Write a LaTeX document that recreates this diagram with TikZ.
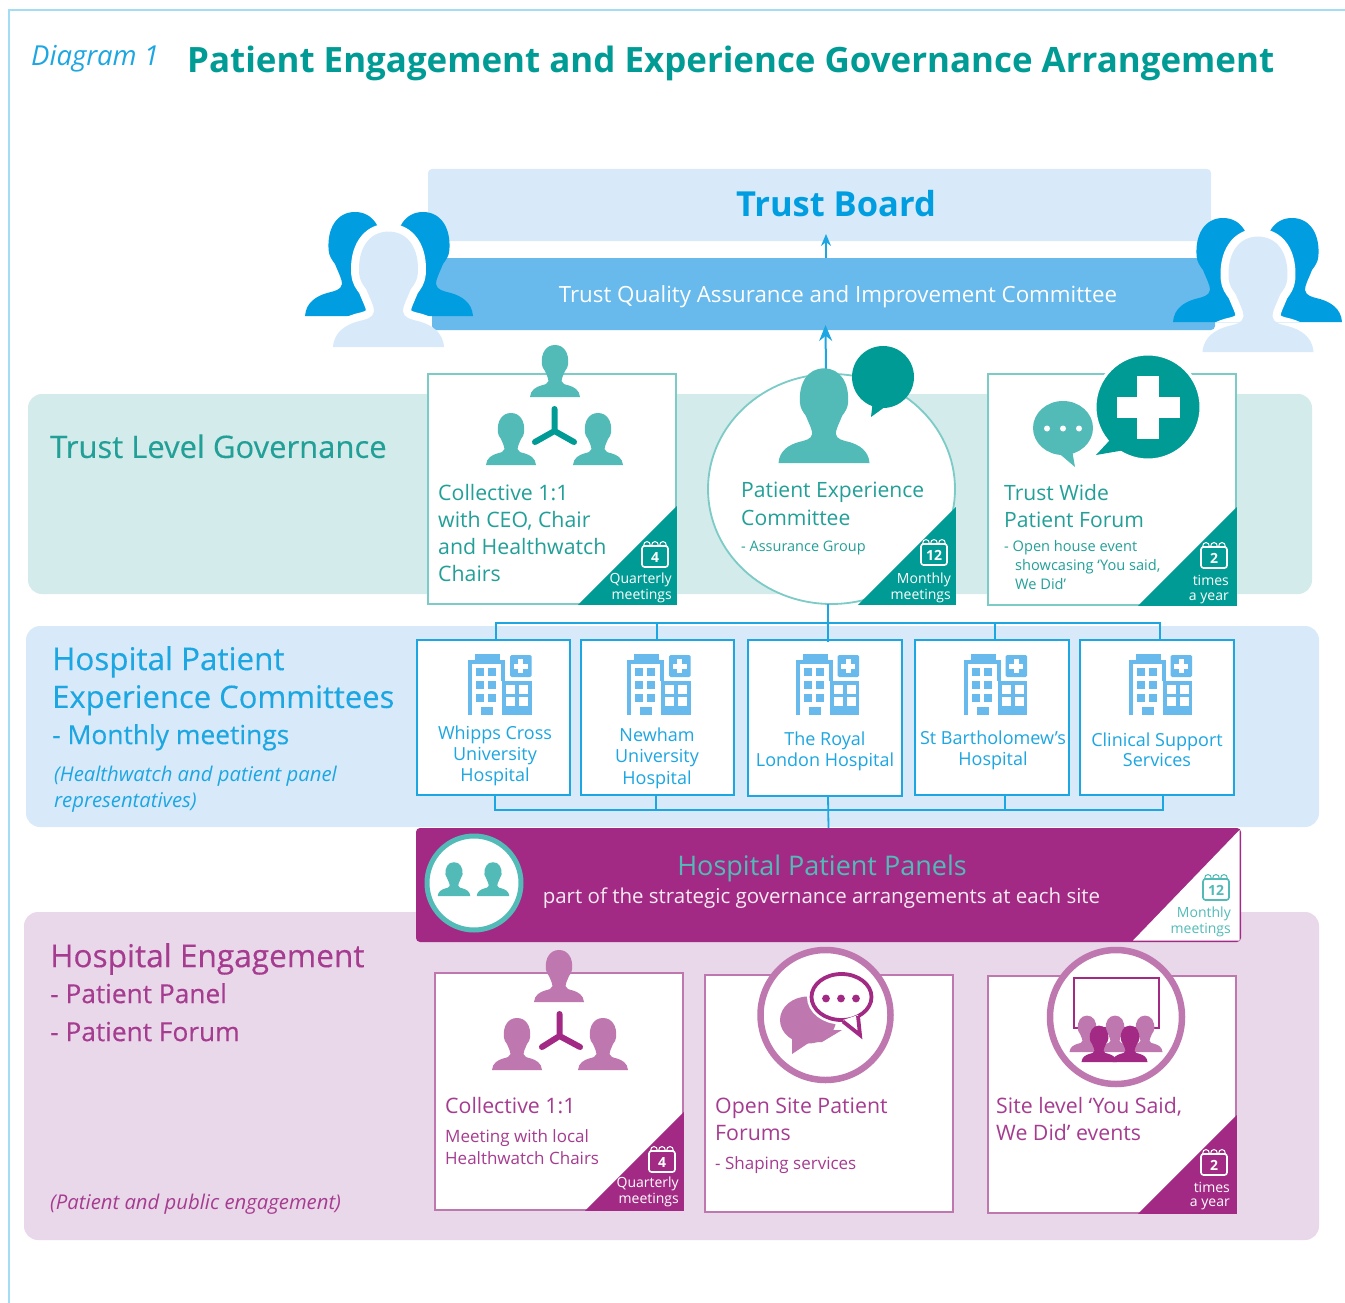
\documentclass[tikz,border=0pt]{standalone}
\usepackage{fontspec}
\setmainfont{Open Sans}
\usetikzlibrary{arrows.meta,shapes.geometric}
\definecolor{frameblue}{HTML}{A3DDF5}
\definecolor{titleblue}{HTML}{1CA6E2}
\definecolor{boardfill}{HTML}{D8EAF9}
\definecolor{qafill}{HTML}{67BAEB}
\definecolor{deepblue}{HTML}{009EE0}
\definecolor{tealdark}{HTML}{009B94}
\definecolor{tealmid}{HTML}{52BBB8}
\definecolor{tealtext}{HTML}{22A098}
\definecolor{tealband}{HTML}{D3EBEA}
\definecolor{tealline}{HTML}{7CCBC7}
\definecolor{plum}{HTML}{A32A84}
\definecolor{plummid}{HTML}{BF77AF}
\definecolor{plumtext}{HTML}{A63C90}
\definecolor{plumband}{HTML}{E9D7EA}
\definecolor{palepink}{HTML}{F7EAF3}
\def\lastsize{10}
\newcommand\fs[1]{\gdef\lastsize{#1}\fontsize{#1}{#1}\selectfont}
\newcommand\hw{\addfontfeature{FakeBold=0.25}}
\newcommand\personshape{(-25,0) .. controls (-24.5,-7) and (-19,-10) .. (-14,-11.5)
 .. controls (-10,-12.5) and (-7,-13) .. (-6.5,-16)
 .. controls (-6.5,-18.5) and (-8,-21) .. (-10,-26)
 .. controls (-11.5,-28) and (-13,-30) .. (-13.2,-33)
 .. controls (-14,-44) and (-9,-52) .. (0,-52)
 .. controls (9,-52) and (14,-44) .. (13.2,-33)
 .. controls (13,-30) and (11.5,-28) .. (10,-26)
 .. controls (8,-21) and (6.5,-18.5) .. (6.5,-16)
 .. controls (7,-13) and (10,-12.5) .. (14,-11.5)
 .. controls (19,-10) and (24.5,-7) .. (25,0) -- cycle}
\newcommand\person[4]{\begin{scope}[shift={(#1,#2)},scale=#3]\fill[#4]\personshape;\end{scope}}
\newcommand\personhalo[4]{\begin{scope}
 \clip ({#1-100},{#2-200}) rectangle ({#1+100},{#2-31});
 \begin{scope}[shift={(#1,#2)},scale=#3]\draw[white,line width=16,line join=round]\personshape;\end{scope}
 \end{scope}
 \person{#1}{#2}{#3}{#4}}
\newcommand\calicon[4]{\begin{scope}[shift={(#1,#2)}]
 \draw[#4,line width=1.6,rounded corners=2.5] (-13,-9) rectangle (13,12);
 \foreach \k in {-8,0,8}{\draw[#4,line width=1] ({\k-3.5},-9) .. controls ({\k-3.5},-15) and ({\k+3.5},-15) .. ({\k+3.5},-9);}
 \node[inner sep=0,text=#4,font=\fs{14}\bfseries] (cal-#1) at (0,2) {#3};
 \end{scope}}
\newcommand\hospital[1]{\begin{scope}[shift={(#1,0)}]
 \fill[qafill] (-24.5,654) rectangle (0.5,661);
 \draw[qafill,line width=4] (-29.5,715) -- (-29.5,662) -- (3.5,662) -- (3.5,681);
 \foreach \a in {-23.5,-11.5}{\foreach \b in {668,681,694}{\fill[qafill] (\a,\b) rectangle ({\a+8},{\b+8});}}
 \fill[qafill] (-18.5,707) rectangle (-6.5,715);
 \fill[qafill] (2.5,681) rectangle (32,715);
 \foreach \a in {6.5,19.5}{\foreach \b in {685,697}{\fill[white] (\a,\b) rectangle ({\a+9},{\b+9});}}
 \fill[qafill,rounded corners=1.5] (10.5,655) rectangle (32,677);
 \fill[white] (18.5,659) rectangle (23.5,673);
 \fill[white] (14,663.5) rectangle (28,668.5);
 \end{scope}}
\tikzset{
 band/.style={inner sep=0,outer sep=0,rounded corners=14,draw=none},
 panelbox/.style={inner sep=0,outer sep=0,rounded corners=4,draw=none},
 card/.style={inner sep=0,outer sep=0,fill=white,line width=1.8},
 tl/.style={inner sep=0,anchor=west,text height={0.77*\lastsize pt},text depth=0pt},
 tc/.style={inner sep=0,anchor=center,text height={0.77*\lastsize pt},text depth=0pt},
 tr/.style={inner sep=0,anchor=east,text height={0.77*\lastsize pt},text depth=0pt},
 conn/.style={draw=titleblue,line width=1.8},
 up/.style={draw=titleblue,line width=1.4,-{Stealth[length=12,width=10]}},
 upbig/.style={draw=titleblue,line width=2,-{Stealth[length=16,width=13]}},
}
\begin{document}
\begin{tikzpicture}[x=1pt,y=-1pt]
\useasboundingbox (0,0) rectangle (1345,1303);
\fill[white] (0,0) rectangle (1345,1303);
\draw[frameblue,line width=1.8] (9,1303) -- (9,10) -- (1345,10);
\node[tl,text=titleblue,font=\fs{27.5}\itshape] (diag) at (31,55) {Diagram 1};
\node[tl,text=tealdark,font=\fs{34.9}\bfseries] (title) at (187,59) {Patient Engagement and Experience Governance Arrangement};
% bands
\node[band,fill=tealband,minimum width=1284,minimum height=200] (tband) at (670,494) {};
\node[band,fill=boardfill,minimum width=1293,minimum height=201] (bband) at (672.5,726.5) {};
\node[band,fill=plumband,minimum width=1295,minimum height=328] (pband) at (671.5,1076) {};
\node[tl,text=tealtext,font=\fs{31}\hw] (tlg) at (50,446) {Trust Level Governance};
\node[tl,text=titleblue,font=\fs{31.4}\hw] (hp1) at (52,658) {Hospital Patient};
\node[tl,text=titleblue,font=\fs{31}\hw] (hp2) at (52,696) {Experience Committees};
\node[tl,text=titleblue,font=\fs{26.4}\hw] (hp3) at (52,734) {- Monthly meetings};
\node[tl,text=titleblue,font=\fs{20.3}\itshape] (hp4) at (54,774) {(Healthwatch and patient panel};
\node[tl,text=titleblue,font=\fs{20.3}\itshape] (hp5) at (54,800) {representatives)};
\node[tl,text=plumtext,font=\fs{31.6}\hw] (he1) at (50,955) {Hospital Engagement};
\node[tl,text=plumtext,font=\fs{26.3}\hw] (he2) at (50,993) {- Patient Panel};
\node[tl,text=plumtext,font=\fs{26.3}\hw] (he3) at (50,1031) {- Patient Forum};
\node[tl,text=plumtext,font=\fs{20.3}\itshape] (he4) at (50,1202) {(Patient and public engagement)};
% top boxes
\node[panelbox,fill=boardfill,minimum width=783,minimum height=72] (board) at (819.5,205) {};
\node[panelbox,fill=qafill,minimum width=783,minimum height=72] (qa) at (823.5,294) {};
\node[tc,text=deepblue,font=\fs{34.5}\bfseries] (boardt) at (836,203) {Trust Board};
\node[tc,text=white,font=\fs{22.3}] (qat) at (838,294) {Trust Quality Assurance and Improvement Committee};
\draw[up] ([xshift=2.5]qa.north) -- ([xshift=6.5,yshift=7]board.south);
% people
\person{355}{316}{2}{deepblue}
\person{423}{316}{2}{deepblue}
\personhalo{388.5}{347}{2.22}{boardfill}
\person{1223}{322}{2}{deepblue}
\person{1292}{322}{2}{deepblue}
\personhalo{1258}{352}{2.22}{boardfill}
% teal cards
\node[card,draw=tealline,minimum width=248,minimum height=230] (c1) at (552,489) {};
\fill[tealdark] (578,604.9) -- (676.9,506) -- (676.9,604.9) -- cycle;
\node[ellipse,card,draw=tealline,minimum width=247,minimum height=230] (pec) at (831.5,489) {};
\fill[tealdark] (858,604.9) -- (955.9,507) -- (955.9,604.9) -- cycle;
\draw[upbig] ([xshift=-5.5]pec.north) -- ([xshift=2,yshift=5]qa.south);
\node[card,draw=tealline,minimum width=248,minimum height=231] (c3) at (1112,489.5) {};
\fill[tealdark] (1138,605.9) -- (1236.9,507) -- (1236.9,605.9) -- cycle;
% card 1 icon
\person{555}{397}{1}{tealmid}
\person{511}{465}{1}{tealmid}
\person{598}{465}{1}{tealmid}
\draw[tealdark,line width=6,line cap=round,line join=round] (554.5,409) -- (554.5,431) (535,442) -- (554.5,431) -- (574,442);
% card 2 icon
\person{824}{463}{1.82}{tealmid}
\fill[tealdark] (883,377) circle[radius=31];
\fill[tealdark] (873,400) -- (871,417) -- (900,396) -- cycle;
% card 3 icon
\fill[tealmid] (1063,428) ellipse[x radius=30,y radius=27];
\fill[tealmid] (1055,450) -- (1075,467) -- (1072,450) -- cycle;
\foreach \k in {1047,1063,1079}{\fill[white] (\k,428.5) circle[radius=3];}
\filldraw[draw=white,line width=3,fill=tealdark] (1148,407) circle[radius=53];
\fill[tealdark] (1110,440) -- (1096,455) -- (1125,450) -- cycle;
\fill[white] (1137,376) rectangle (1159,439);
\fill[white] (1117,397) rectangle (1180,418);
% teal texts
\node[tl,text=tealtext,font=\fs{21.3}] (c1a) at (438,492) {Collective 1:1};
\node[tl,text=tealtext,font=\fs{21.3}] (c1b) at (438,519) {with CEO, Chair};
\node[tl,text=tealtext,font=\fs{21.3}] (c1c) at (438,546) {and Healthwatch};
\node[tl,text=tealtext,font=\fs{21.3}] (c1d) at (438,573) {Chairs};
\node[tl,text=tealtext,font=\fs{21.1}] (p1) at (741,489) {Patient Experience};
\node[tl,text=tealtext,font=\fs{21.1}] (p2) at (741,517) {Committee};
\node[tl,text=tealtext,font=\fs{14.5}] (p3) at (741,546) {- Assurance Group};
\node[tl,text=tealtext,font=\fs{21.1}] (c3a) at (1004,492) {Trust Wide};
\node[tl,text=tealtext,font=\fs{21.1}] (c3b) at (1004,519) {Patient Forum};
\node[tl,text=tealtext,font=\fs{14.6}] (c3c) at (1004,546) {- Open house event};
\node[tl,text=tealtext,font=\fs{14.6}] (c3d) at (1015,565) {showcasing ‘You said,};
\node[tl,text=tealtext,font=\fs{14.6}] (c3e) at (1015,584) {We Did’};
\calicon{655}{555}{4}{white}
\node[tr,text=white,font=\fs{14}] (q1a) at (672,578) {Quarterly};
\node[tr,text=white,font=\fs{14}] (q1b) at (672,594) {meetings};
\calicon{934}{553}{12}{white}
\node[tr,text=white,font=\fs{14}] (m1a) at (951,578) {Monthly};
\node[tr,text=white,font=\fs{14}] (m1b) at (951,594) {meetings};
\calicon{1214}{556}{2}{white}
\node[tr,text=white,font=\fs{14}] (y1a) at (1229,580) {times};
\node[tr,text=white,font=\fs{14}] (y1b) at (1229,595) {a year};
% hospital cards
\node[card,draw=titleblue,minimum width=153,minimum height=155] (whipps) at (493.5,717.5) {};
\node[card,draw=titleblue,minimum width=153,minimum height=155] (newham) at (657.5,717.5) {};
\node[card,draw=titleblue,minimum width=154,minimum height=156] (royal) at (825,718) {};
\node[card,draw=titleblue,minimum width=154,minimum height=155] (bart) at (992,717.5) {};
\node[card,draw=titleblue,minimum width=154,minimum height=155] (clinical) at (1157,717.5) {};
\coordinate (busA) at (828,623);
\coordinate (busB) at (828,810);
\draw[conn] ([xshift=2.5]whipps.north) |- (busA);
\draw[conn] ([xshift=-0.5]newham.north) |- (busA);
\draw[conn] ([xshift=3]bart.north) |- (busA);
\draw[conn] ([xshift=3]clinical.north) |- (busA);
\draw[conn] ([xshift=-3.5]pec.south) -- ([xshift=3,yshift=-2]royal.north);
\draw[conn] ([xshift=1.5]whipps.south) |- (busB);
\draw[conn] ([xshift=-1.5]newham.south) |- (busB);
\draw[conn] ([xshift=13]bart.south) |- (busB);
\draw[conn] ([xshift=6]clinical.south) |- (busB);
\hospital{499.5}\hospital{658.5}\hospital{827}\hospital{995}\hospital{1160}
\node[tc,text=titleblue,font=\fs{18}] (w1) at (495,733) {Whipps Cross};
\node[tc,text=titleblue,font=\fs{18}] (w2) at (495,754) {University};
\node[tc,text=titleblue,font=\fs{18}] (w3) at (495,775) {Hospital};
\node[tc,text=titleblue,font=\fs{18}] (n1) at (657,735) {Newham};
\node[tc,text=titleblue,font=\fs{18}] (n2) at (657,756) {University};
\node[tc,text=titleblue,font=\fs{18}] (n3) at (657,778) {Hospital};
\node[tc,text=titleblue,font=\fs{18}] (r1) at (825,739) {The Royal};
\node[tc,text=titleblue,font=\fs{18}] (r2) at (825,760) {London Hospital};
\node[tc,text=titleblue,font=\fs{18}] (b1) at (993,738) {St Bartholomew’s};
\node[tc,text=titleblue,font=\fs{18}] (b2) at (993,759) {Hospital};
\node[tc,text=titleblue,font=\fs{18}] (s1) at (1157,740) {Clinical Support};
\node[tc,text=titleblue,font=\fs{18}] (s2) at (1157,760) {Services};
% panels
\node[panelbox,fill=plum,minimum width=825,minimum height=114] (panels) at (828.5,885) {};
\draw[conn] ([xshift=3]royal.south) -- (panels.north);
\fill[white] (1133,940.5) -- (1239.5,830) -- (1239.5,940.5) -- cycle;
\filldraw[fill=white,draw=tealmid,line width=5] (474,883) circle[radius=47];
\person{454}{896}{0.65}{tealmid}
\person{493}{896}{0.65}{tealmid}
\node[tc,text=tealmid,font=\fs{27}] (pp1) at (822,865) {Hospital Patient Panels};
\node[tc,text=palepink,font=\fs{20.5}] (pp2) at (821.5,896) {part of the strategic governance arrangements at each site};
\calicon{1216}{888}{12}{tealmid}
\node[tr,text=tealmid,font=\fs{14}] (pm1) at (1231,912) {Monthly};
\node[tr,text=tealmid,font=\fs{14}] (pm2) at (1231,928) {meetings};
% plum cards
\node[card,draw=plummid,minimum width=248,minimum height=237] (e1) at (559,1091.5) {};
\fill[plum] (585,1210.9) -- (683.9,1112) -- (683.9,1210.9) -- cycle;
\node[card,draw=plummid,minimum width=248,minimum height=237] (e2) at (829,1093.5) {};
\node[card,draw=plummid,minimum width=248,minimum height=237] (e3) at (1112,1094.5) {};
\fill[plum] (1138,1213.9) -- (1236.9,1115) -- (1236.9,1213.9) -- cycle;
\person{559}{1002}{1}{plummid}
\person{517}{1070}{1}{plummid}
\person{603}{1070}{1}{plummid}
\draw[plum,line width=6,line cap=round,line join=round] (559.5,1014) -- (559.5,1036) (542,1047) -- (559.5,1036) -- (580,1047);
% forum icon
\filldraw[fill=white,draw=plummid,line width=6.5] (825.5,1015) circle[radius=65];
\fill[plummid] (808,1020) ellipse[x radius=28,y radius=23.5];
\fill[plummid] (808,1030) -- (842,1030) -- (822,1042) -- (792,1043) -- cycle;
\fill[plummid] (792,1038) -- (792,1054) -- (810,1042) -- cycle;
\filldraw[fill=white,draw=white,line width=9] (841.5,997) ellipse[x radius=30,y radius=23];
\fill[white] (836,1018) -- (861,1040) -- (862,1012) -- cycle;
\filldraw[fill=white,draw=plum,line width=3.8] (841.5,997) ellipse[x radius=30,y radius=23];
\fill[white] (843,1020) -- (860,1035) -- (858,1015) -- cycle;
\draw[plum,line width=3.8,line join=miter] (843,1021.5) -- (860,1035) -- (858,1016);
\foreach \k in {826,841,856}{\fill[plum] (\k,998.5) circle[radius=3.9];}
% events icon
\filldraw[fill=white,draw=plummid,line width=6.5] (1116,1017) ellipse[x radius=66,y radius=67];
\filldraw[fill=white,draw=plum,line width=1.8] (1074,978) rectangle (1159,1028);
\person{1087}{1052}{0.7}{plummid}
\person{1115}{1052}{0.7}{plummid}
\person{1145}{1052}{0.7}{plummid}
\person{1099}{1062}{0.7}{plum}
\person{1130}{1062}{0.7}{plum}
% plum texts
\node[tl,text=plumtext,font=\fs{21.3}] (e1a) at (445,1105) {Collective 1:1};
\node[tl,text=plumtext,font=\fs{17}] (e1b) at (445,1136) {Meeting with local};
\node[tl,text=plumtext,font=\fs{17}] (e1c) at (445,1158) {Healthwatch Chairs};
\node[tl,text=plumtext,font=\fs{21.3}] (e2a) at (715,1105) {Open Site Patient};
\node[tl,text=plumtext,font=\fs{21.3}] (e2b) at (715,1132) {Forums};
\node[tl,text=plumtext,font=\fs{17}] (e2c) at (715,1163) {- Shaping services};
\node[tl,text=plumtext,font=\fs{21.3}] (e3a) at (996,1105) {Site level ‘You Said,};
\node[tl,text=plumtext,font=\fs{21.3}] (e3b) at (996,1132) {We Did’ events};
\calicon{662}{1160}{4}{white}
\node[tr,text=white,font=\fs{14}] (q2a) at (679,1182) {Quarterly};
\node[tr,text=white,font=\fs{14}] (q2b) at (679,1198) {meetings};
\calicon{1214}{1163}{2}{white}
\node[tr,text=white,font=\fs{14}] (y2a) at (1230,1187) {times};
\node[tr,text=white,font=\fs{14}] (y2b) at (1230,1201) {a year};
\end{tikzpicture}
\end{document}
